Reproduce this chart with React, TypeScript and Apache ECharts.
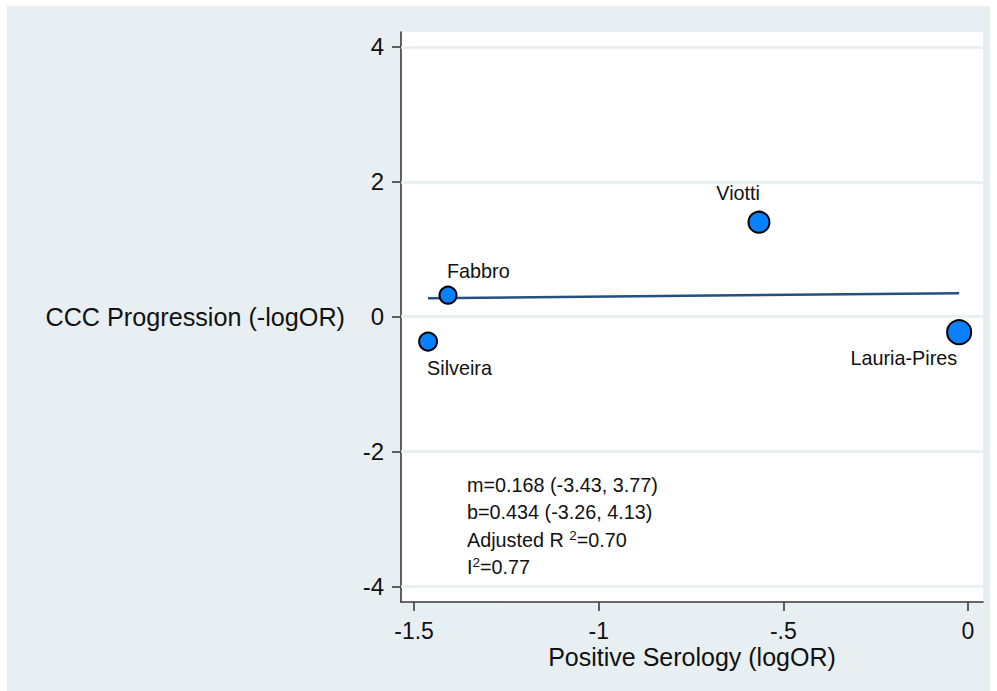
import React, { useEffect, useRef } from "react";
import * as echarts from "echarts";

// Meta-regression of CCC progression on positive serology (log odds ratios)
const studies = ["Silveira", "Fabbro", "Viotti", "Lauria-Pires"];
const serologyLogOR = [-1.462, -1.408, -0.566, -0.024];
const progressionNegLogOR = [-0.37, 0.319, 1.4, -0.23];
const studyWeights = [3.2, 2.9, 4.4, 5.8];

// Fitted meta-regression line over the observed serology range
const fitX = [-1.462, -0.024];
const fitY = [0.274, 0.348];

const xTicks = [-1.5, -1, -0.5, 0];
const xTickLabels = ["-1.5", "-1", "-.5", "0"];
const yTicks = [-4, -2, 0, 2, 4];

const statLines = [
  "{n|m=0.168 (-3.43, 3.77)}",
  "{n|b=0.434 (-3.26, 4.13)}",
  "{n|Adjusted R }{s|2}{n|=0.70}",
  "{n|I}{s|2}{n|=0.77}",
];

const FONT = "'Liberation Sans', Arial, Helvetica, sans-serif";
const INK = "#111111";

// Label placement per study, relative to the bubble centre
const labelPlacement: Record<string, { align: string; offset: number[] }> = {
  Silveira: { align: "left", offset: [-1, 26] },
  Fabbro: { align: "left", offset: [-1, -24] },
  Viotti: { align: "right", offset: [1, -29] },
  "Lauria-Pires": { align: "right", offset: [-2, 26] },
};

export default function App() {
  const ref = useRef<HTMLDivElement>(null);

  useEffect(() => {
    if (!ref.current) return;
    const chart = echarts.init(ref.current, null, { renderer: "svg" });

    const points = studies.map((name, i) => ({
      name,
      value: [serologyLogOR[i], progressionNegLogOR[i]],
      symbolSize: Math.sqrt(studyWeights[i]) * 10,
      label: {
        show: true,
        formatter: name,
        position: "inside",
        align: labelPlacement[name].align,
        verticalAlign: "middle",
        offset: labelPlacement[name].offset,
        color: INK,
        fontSize: 19.8,
        fontFamily: FONT,
      },
    }));

    const option: any = {
      animation: false,
      backgroundColor: "transparent",
      textStyle: { fontFamily: FONT },
      graphic: [
        {
          type: "rect",
          z: -10,
          silent: true,
          shape: { x: 7, y: 6, width: 983, height: 685 },
          style: { fill: "#e8eff2" },
        },
        ...statLines.map((t, i) => ({
          type: "text",
          left: 467,
          top: 475 + i * 26.7,
          z: 20,
          style: {
            text: t,
            rich: {
              n: { fontSize: 19.8, fontFamily: FONT, fill: INK, lineHeight: 24 },
              s: { fontSize: 13.5, fontFamily: FONT, fill: INK, verticalAlign: "top", lineHeight: 24 },
            },
          },
        })),
      ],
      grid: {
        left: 401,
        top: 32,
        width: 582,
        height: 570,
        show: true,
        backgroundColor: "#ffffff",
        borderWidth: 0,
      },
      xAxis: {
        type: "value",
        min: -1.5353,
        max: 0.0406,
        name: "Positive Serology (logOR)",
        nameLocation: "middle",
        nameGap: 54.5,
        nameMoveOverlap: false,
        nameTextStyle: {
          fontSize: 25,
          color: INK,
          fontFamily: FONT,
          verticalAlign: "middle",
        },
        axisLine: { show: true, onZero: false, lineStyle: { color: "#3a3a3a", width: 1.6 } },
        axisTick: {
          show: true,
          length: 9,
          customValues: xTicks,
          lineStyle: { color: "#3a3a3a", width: 1.6 },
        },
        axisLabel: {
          customValues: xTicks,
          margin: 19,
          fontSize: 23,
          lineHeight: 20,
          color: INK,
          fontFamily: FONT,
          formatter: (v: number) => {
            const idx = xTicks.findIndex((t) => Math.abs(t - v) < 1e-9);
            return idx >= 0 ? xTickLabels[idx] : "";
          },
        },
        splitLine: { show: false },
      },
      yAxis: {
        type: "value",
        min: -4.23,
        max: 4.22,
        name: "CCC Progression (-logOR)",
        nameLocation: "middle",
        nameRotate: 0,
        nameGap: 56,
        nameMoveOverlap: false,
        nameTextStyle: {
          fontSize: 25.2,
          color: INK,
          fontFamily: FONT,
          align: "right",
          verticalAlign: "middle",
        },
        axisLine: { show: true, onZero: false, lineStyle: { color: "#3a3a3a", width: 1.6 } },
        axisTick: {
          show: true,
          length: 9,
          customValues: yTicks,
          lineStyle: { color: "#3a3a3a", width: 1.6 },
        },
        axisLabel: {
          customValues: yTicks,
          margin: 17,
          fontSize: 24,
          color: INK,
          fontFamily: FONT,
        },
        splitLine: { show: false },
      },
      series: [
        {
          type: "line",
          data: [],
          z: 1,
          silent: true,
          markLine: {
            silent: true,
            symbol: "none",
            label: { show: false },
            lineStyle: { color: "#e6eef1", width: 2.5, type: "solid" },
            data: yTicks.map((v) => ({ yAxis: v })),
          },
        },
        {
          type: "line",
          z: 2,
          silent: true,
          showSymbol: false,
          symbol: "none",
          data: fitX.map((x, i) => [x, fitY[i]]),
          lineStyle: { color: "#24507e", width: 2.5 },
        },
        {
          type: "scatter",
          z: 3,
          data: points,
          itemStyle: { color: "#0880ff", borderColor: "#000000", borderWidth: 2, opacity: 1 },
        },
      ],
    };

    chart.setOption(option);
    return () => chart.dispose();
  }, []);

  return (
    <div
      ref={ref}
      style={{ position: "absolute", left: 0, top: 0, width: 997, height: 691 }}
    />
  );
}
